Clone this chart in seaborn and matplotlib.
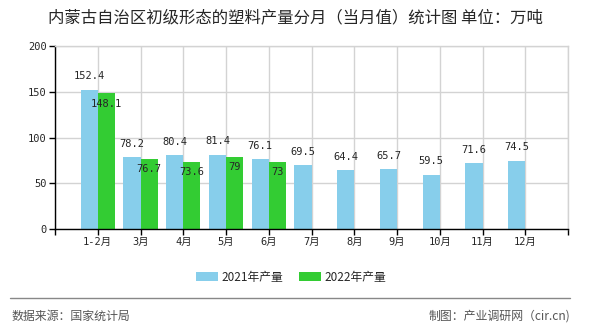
import matplotlib
matplotlib.use("Agg")
import matplotlib.pyplot as plt
import seaborn as sns
import pandas as pd
from matplotlib.patches import Patch
from matplotlib.lines import Line2D

months = ['1-2月', '3月', '4月', '5月', '6月', '7月', '8月', '9月', '10月', '11月', '12月']
v2021 = [152.4, 78.2, 80.4, 81.4, 76.1, 69.5, 64.4, 65.7, 59.5, 71.6, 74.5]
v2022 = [148.1, 76.7, 73.6, 79, 73]
series = ['2021年产量', '2022年产量']
colors = ['#87CEEB', '#33CC33']
yticks = [0, 50, 100, 150, 200]

title = '内蒙古自治区初级形态的塑料产量分月（当月值）统计图 单位：万吨'
src = '数据来源：国家统计局'
credit = '制图：产业调研网（cir.cn)'

rows = [(m, series[0], v) for m, v in zip(months, v2021)] + \
       [(m, series[1], v) for m, v in zip(months, v2022)]
df = pd.DataFrame(rows, columns=['month', 'series', 'value'])

sns.set_style('white')
plt.rcParams['font.family'] = ['Noto Sans CJK SC', 'DejaVu Sans']
mono = ['DejaVu Sans Mono', 'Noto Sans CJK SC']

fig = plt.figure(figsize=(5.9, 3.3), dpi=100)
ax = fig.add_axes([55/590, 1 - 229/330, 513/590, 183/330])

sns.barplot(data=df, x='month', y='value', hue='series', order=months,
            hue_order=series, palette=colors, width=0.8, saturation=1,
            ax=ax, legend=False, errorbar=None, linewidth=0, edgecolor='none')

ax.set_xlim(-1, len(months))
ax.set_ylim(0, 200)
ax.set_yticks(yticks)
ax.set_xticks(range(-1, len(months) + 1))
ax.set_xticklabels([''] + months + [''], fontfamily=mono, fontsize=7.5)
ax.set_yticklabels([str(t) for t in yticks], fontfamily=mono, fontsize=7.5)
ax.set_xlabel('')
ax.set_ylabel('')
ax.grid(True, color='#d3d3d3', linewidth=1)
ax.set_axisbelow(True)
for s in ['top', 'right']:
    ax.spines[s].set_visible(True)
    ax.spines[s].set_color('#d3d3d3')
    ax.spines[s].set_linewidth(1)
for s in ['left', 'bottom']:
    ax.spines[s].set_color('black')
    ax.spines[s].set_linewidth(1)
ax.tick_params(axis='both', direction='out', length=4, width=1, color='black',
               pad=2, bottom=True, left=True)

c21, c22 = ax.containers[0], ax.containers[1]
ax.bar_label(c21, fmt='{:g}', padding=6, fontfamily=mono, fontsize=7.5)
ax.bar_label(c22, fmt='{:g}', padding=-11, fontfamily=mono, fontsize=7.5)

fig.text(0.5, 1 - 18/330, title, ha='center', va='center', fontsize=11.8)

handles = [Patch(facecolor=c, edgecolor='none') for c in colors]
fig.legend(handles, series, loc='center', bbox_to_anchor=(291/590, 1 - 277/330),
           ncol=2, frameon=False, fontsize=8.5, handlelength=1.85, handleheight=0.7,
           handletextpad=0.3, columnspacing=1.3)

fig.add_artist(Line2D([10/590, 570/590], [1 - 298/330] * 2, color='#888888', linewidth=1))
fig.text(12/590, 1 - 316/330, src, ha='left', va='center', fontsize=8.6, color='#555555')
fig.text(570/590, 1 - 316/330, credit, ha='right', va='center', fontsize=8.6, color='#555555')

fig.savefig('out.png', dpi=100)
